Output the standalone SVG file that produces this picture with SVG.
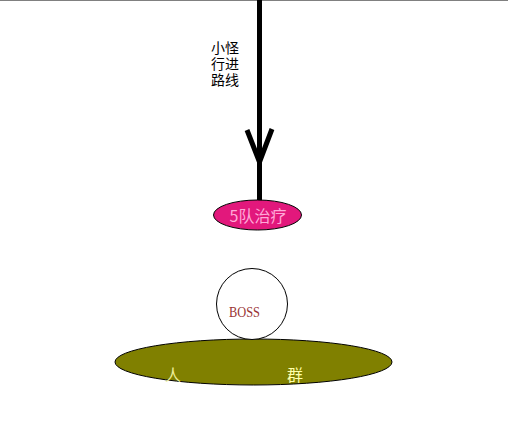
<svg xmlns="http://www.w3.org/2000/svg" width="508" height="444" viewBox="0 0 508 444">
<style>
.cjk{font-family:"Noto Sans CJK SC","Liberation Sans",sans-serif;}
.route{font-family:"Liberation Sans","Noto Sans CJK SC",sans-serif;}
</style>
<rect x="0" y="0" width="508" height="444" fill="#ffffff"/>
<line x1="0" y1="0.5" x2="508" y2="0.5" stroke="#808080" stroke-width="1"/>
<g id="connectors">
<line x1="259.5" y1="0" x2="259.5" y2="202" stroke="#000" stroke-width="5"/>
<polyline points="247,130 259.5,162 272,129" fill="none" stroke="#000" stroke-width="5" stroke-linejoin="miter"/>
</g>
<g id="label-route">
<text class="route" font-size="14" fill="#000"><tspan x="211" y="53">小怪</tspan><tspan x="211" y="69">行进</tspan><tspan x="211" y="85">路线</tspan></text>
</g>
<g id="healer">
<ellipse cx="257.5" cy="215" rx="44" ry="15" fill="#e2187c" stroke="#000" stroke-width="1"/>
<text class="cjk" x="258" y="222" font-size="16" fill="#ffa8d8" text-anchor="middle">5队治疗</text>
</g>
<g id="crowd">
<ellipse cx="253.5" cy="362" rx="138.5" ry="23" fill="#808000" stroke="#000" stroke-width="1"/>
<text class="cjk" x="165" y="381" font-size="16" fill="#eeee99">人</text>
<text class="cjk" x="287" y="381" font-size="16" fill="#ffffaa">群</text>
</g>
<g id="boss">
<circle cx="252" cy="304" r="35.5" fill="#ffffff" stroke="#000" stroke-width="1"/>
<text x="229" y="317" font-family="Liberation Serif,serif" font-size="14" fill="#993333" textLength="31" lengthAdjust="spacingAndGlyphs">BOSS</text>
</g>
</svg>
